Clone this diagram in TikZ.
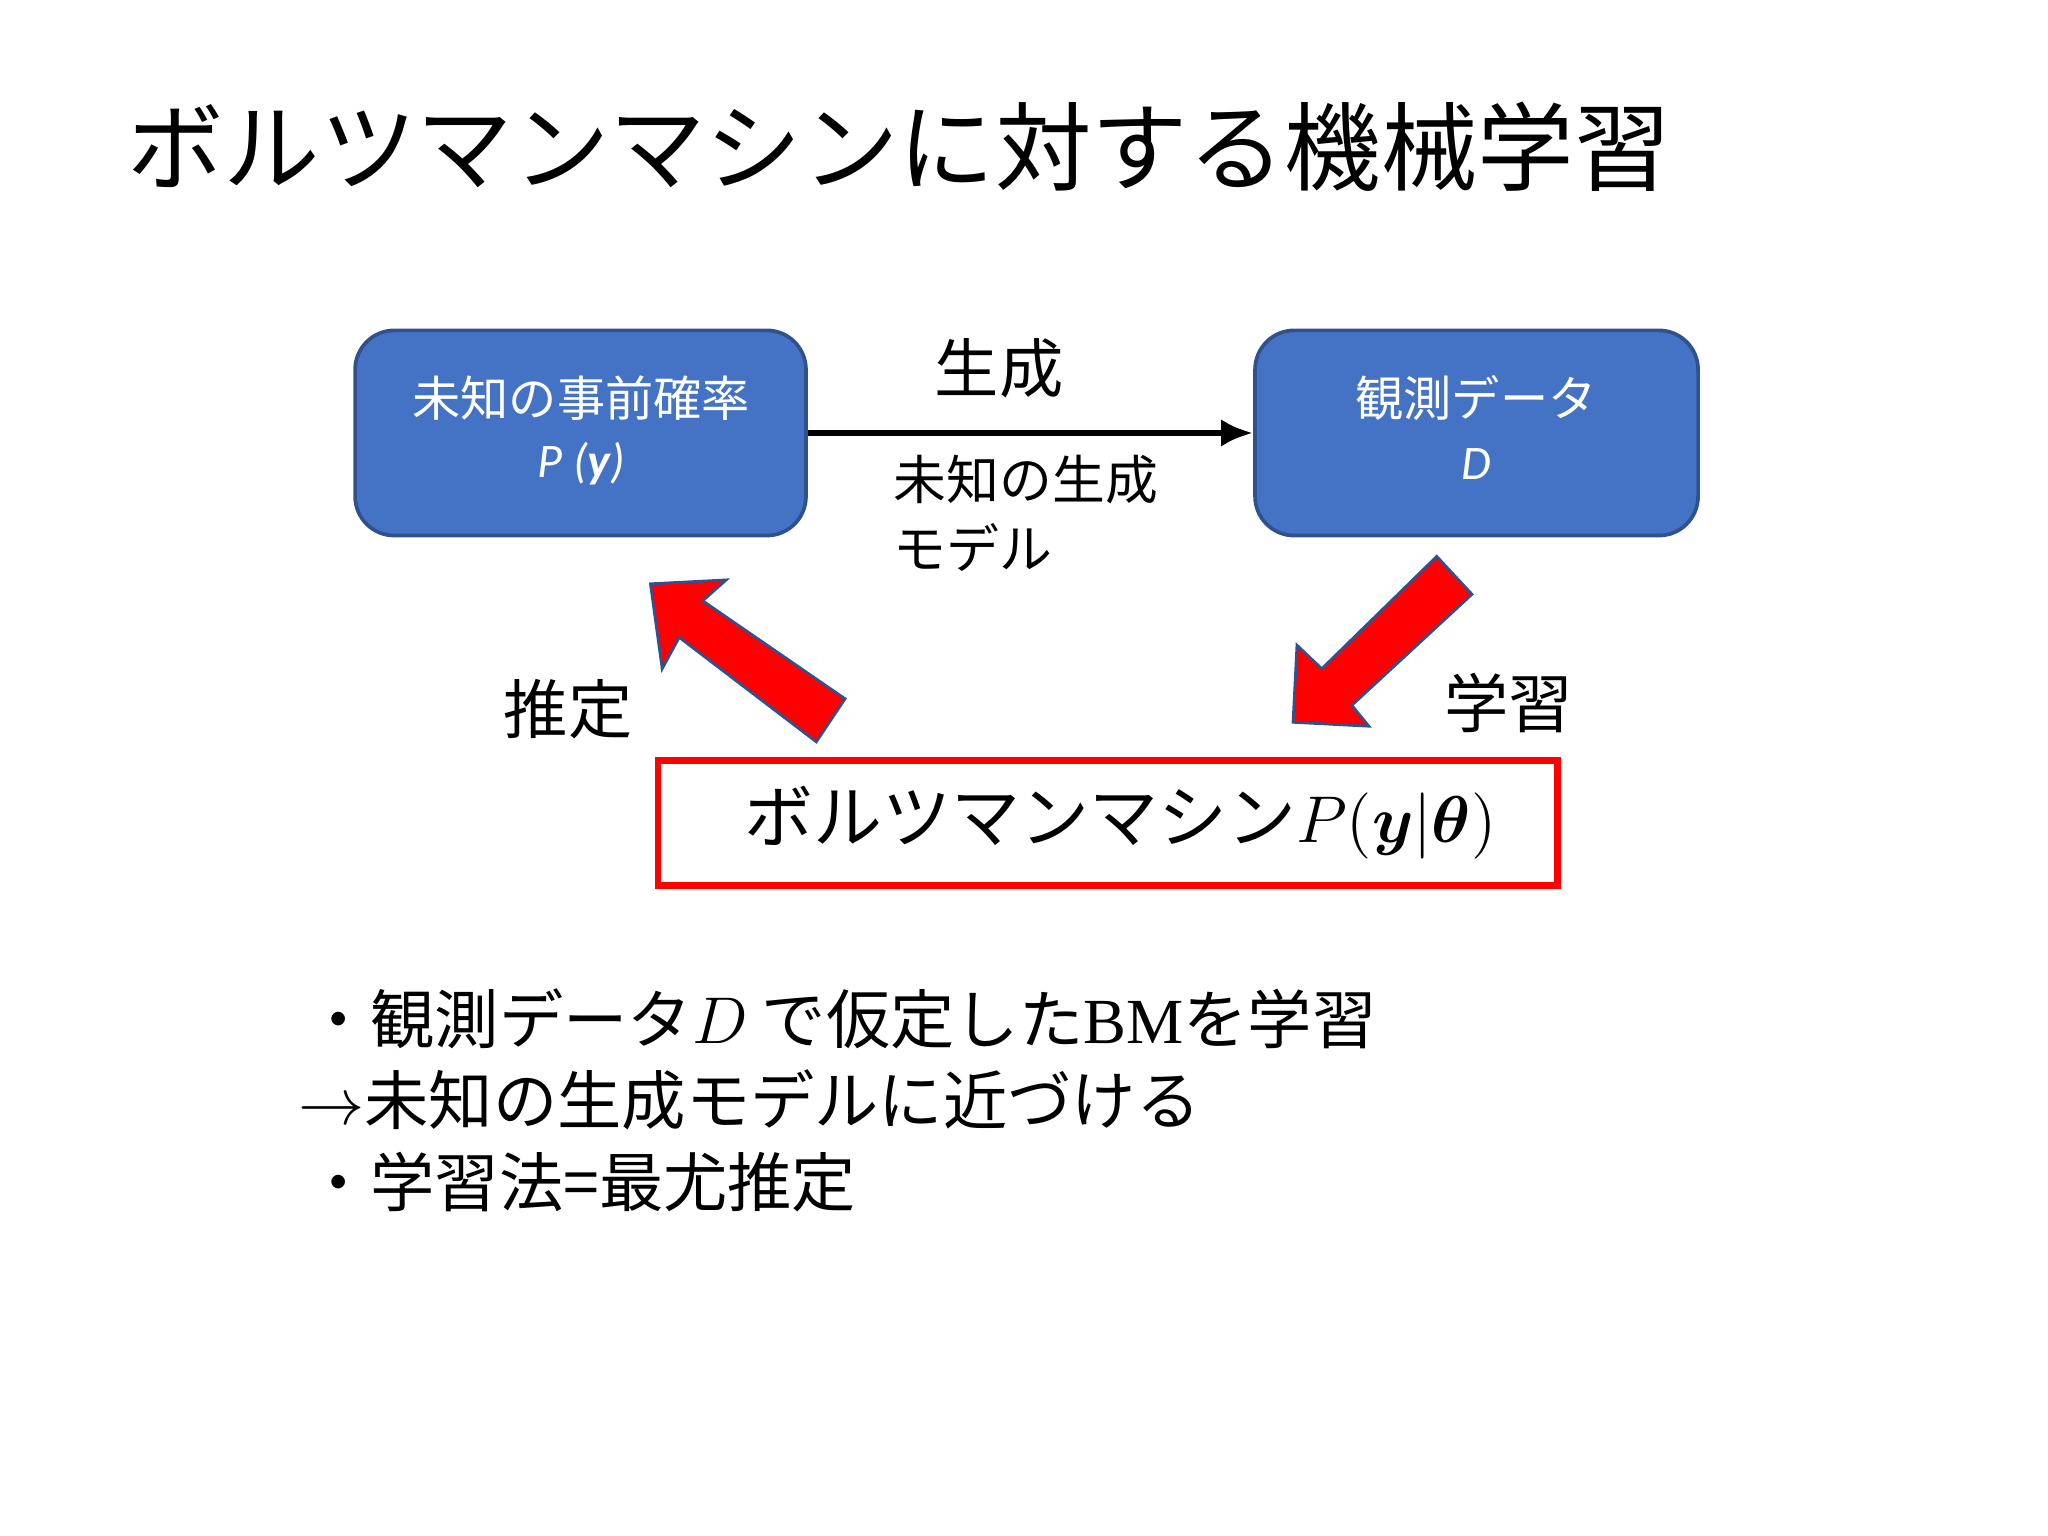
\documentclass[tikz,border=0pt]{standalone}
\usepackage{fontspec}
\usepackage{amsmath}
\newfontfamily\cjk{Noto Sans CJK JP}
\newfontfamily\calib{Carlito}
\newfontfamily\serifl{Liberation Serif}
\usetikzlibrary{arrows.meta}
\definecolor{boxblue}{HTML}{4472C4}
\definecolor{boxedge}{HTML}{2F528F}
\tikzset{
 bluebox/.style={draw=boxedge, fill=boxblue, rounded corners=0.3cm, line width=0.8pt},
 boxtxt/.style={text=white, font=\cjk\fontsize{10.5}{13}\selectfont, align=center},
 lbl/.style={font=\cjk\fontsize{14}{17}\selectfont},
 fat/.style={fill=red, draw=boxedge, line width=0.6pt},
}
\begin{document}
\begin{tikzpicture}[x=0.01cm,y=-0.01cm]
\useasboundingbox (0,0) rectangle (1568,1176);
\node[anchor=west, font=\cjk\fontsize{21}{25}\selectfont] (title) at (85,112) {ボルツマンマシンに対する機械学習};
\node[bluebox, minimum width=3.45cm, minimum height=1.57cm] (L) at (444.5,331.5) {};
\node[boxtxt] (Lt1) at (445,305) {未知の事前確率};
\node[boxtxt] (Lt2) at (445,355) {\calib\itshape P (\textbf{y})};
\node[bluebox, minimum width=3.39cm, minimum height=1.57cm] (R) at (1130.5,331.5) {};
\node[boxtxt] (Rt1) at (1130,305) {観測データ};
\node[boxtxt] (Rt2) at (1130,355) {\calib\itshape D};
\draw[line width=1.4pt, -{Latex[length=7pt,width=6pt]}] (L.east) -- (R.west);
\node[lbl] (gen) at (765,282) {生成};
\node[anchor=west, align=left, font=\cjk\fontsize{11.5}{15}\selectfont] (model) at (672,393) {未知の生成\\モデル};
\filldraw[fat] (498,447) -- (556,444) -- (538,460) -- (647,535) -- (625,568) -- (520,488) -- (507,512) -- cycle;
\filldraw[fat] (990,553) -- (993,494) -- (1012,512) -- (1100,426) -- (1127,455) -- (1035,540) -- (1048,556) -- cycle;
\node[lbl] (est) at (435,543) {推定};
\node[lbl] (learn) at (1155,538) {学習};
\node[draw=red, line width=1.5pt, minimum width=6.88cm, minimum height=0.96cm] (bm) at (848,630) {};
\node[font=\cjk\fontsize{15}{18}\selectfont] (bmt) at (858,630) {ボルツマンマシン$P(\boldsymbol{y}|\boldsymbol{\theta})$};
\node[anchor=west, font=\cjk\fontsize{14}{17}\selectfont] (b1) at (222,780) {・観測データ$D$ で仮定した{\serifl BM}を学習};
\node[anchor=west, font=\cjk\fontsize{14}{17}\selectfont] (b2) at (216,842) {$\rightarrow$未知の生成モデルに近づける};
\node[anchor=west, font=\cjk\fontsize{14}{17}\selectfont] (b3) at (222,905) {・学習法=最尤推定};
\end{tikzpicture}
\end{document}
